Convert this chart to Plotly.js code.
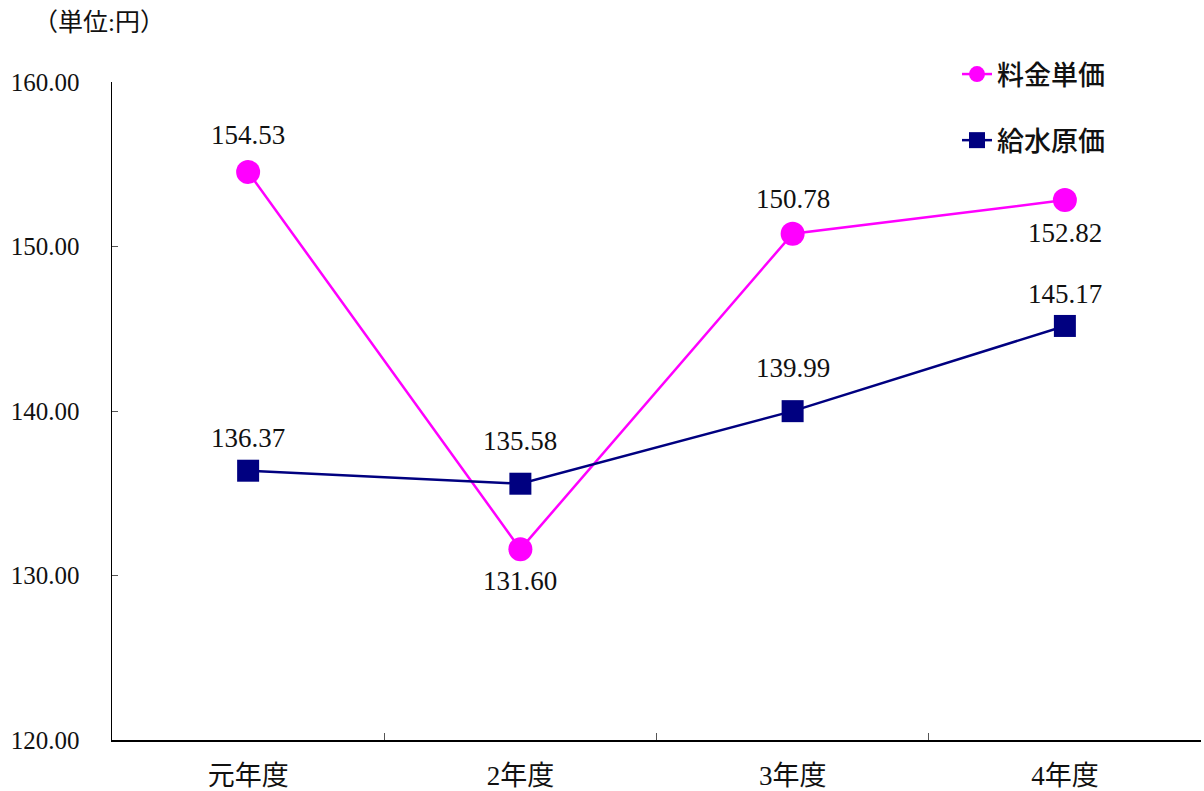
<!DOCTYPE html>
<html>
<head>
<meta charset="utf-8">
<script src="https://cdn.plot.ly/plotly-3.0.1.min.js"></script>
<style>html,body{margin:0;padding:0;background:#fff;}#chart{width:1204px;height:791px;}</style>
</head>
<body>
<div id="chart"></div>
<script>
const categories = ["元年度", "2年度", "3年度", "4年度"];
const ryokinTanka = [154.53, 131.60, 150.78, 152.82];
const kyusuiGenka = [136.37, 135.58, 139.99, 145.17];
const seriesNames = ["料金単価", "給水原価"];
const yTicks = [120, 130, 140, 150, 160];

// label offsets (pixels) for the data labels
const ryokinShift = [-37, 32, -35, 33];
const kyusuiShift = [-33, -43, -43, -32];

const serif = '"Liberation Serif", "DejaVu Serif", "Noto Sans CJK JP", serif';
const sans = '"Noto Sans CJK JP", "Noto Sans", sans-serif';

const traces = [
  {
    x: categories, y: ryokinTanka, name: seriesNames[0], legendgroup: 'g1', type: 'scatter', mode: 'lines+markers',
    line: {color: '#FF00FF', width: 2.5},
    marker: {symbol: 'circle', size: 24, color: '#FF00FF'}
  },
  {
    x: categories, y: kyusuiGenka, name: seriesNames[1], legendgroup: 'g2', type: 'scatter', mode: 'lines+markers',
    line: {color: '#000080', width: 2.5},
    marker: {symbol: 'square', size: 22, color: '#000080'}
  }
];

const annotations = [];
categories.forEach((c, i) => {
  annotations.push({x: c, y: ryokinTanka[i], xref: 'x', yref: 'y', text: ryokinTanka[i].toFixed(2),
    showarrow: false, yshift: -ryokinShift[i], font: {family: serif, size: 27, color: '#111'}});
  annotations.push({x: c, y: kyusuiGenka[i], xref: 'x', yref: 'y', text: kyusuiGenka[i].toFixed(2),
    showarrow: false, yshift: -kyusuiShift[i], font: {family: serif, size: 27, color: '#111'}});
});

const layout = {
  width: 1204, height: 791,
  margin: {l: 112, r: 3, t: 82, b: 51},
  paper_bgcolor: '#fff', plot_bgcolor: '#fff',
  showlegend: true,
  title: {text: '（単位:円）', xref: 'container', yref: 'container', x: 33/1204, xanchor: 'left',
    y: 1 - 22/791, yanchor: 'middle', font: {family: serif, size: 25, color: '#111'}},
  legend: {x: 1 - (1204-957-3)/1089, xanchor: 'left', y: 1 + (82-50)/658, yanchor: 'top',
    font: {family: sans, size: 27, color: '#111', weight: 500}, tracegroupgap: 28, bgcolor: 'rgba(0,0,0,0)'},
  xaxis: {
    type: 'category', range: [-0.5, 3.5], showline: true, linecolor: '#000', linewidth: 1.5,
    ticks: 'inside', tickson: 'boundaries', ticklen: 7, tickcolor: '#555', tickwidth: 1,
    showgrid: false, zeroline: false, mirror: false,
    tickfont: {family: serif, size: 27, color: '#111'}, ticklabelstandoff: 11
  },
  yaxis: {
    range: [120, 160], tickvals: yTicks, tickformat: '.2f', showline: true, linecolor: '#000', linewidth: 1.5,
    ticks: 'inside', ticklen: 6, tickcolor: '#555', tickwidth: 1, showgrid: false, zeroline: false,
    tickfont: {family: serif, size: 25, color: '#111'}, ticklabelstandoff: 26
  },
  annotations: annotations
};

Plotly.newPlot('chart', traces, layout, {displayModeBar: false, staticPlot: true});
</script>
</body>
</html>
